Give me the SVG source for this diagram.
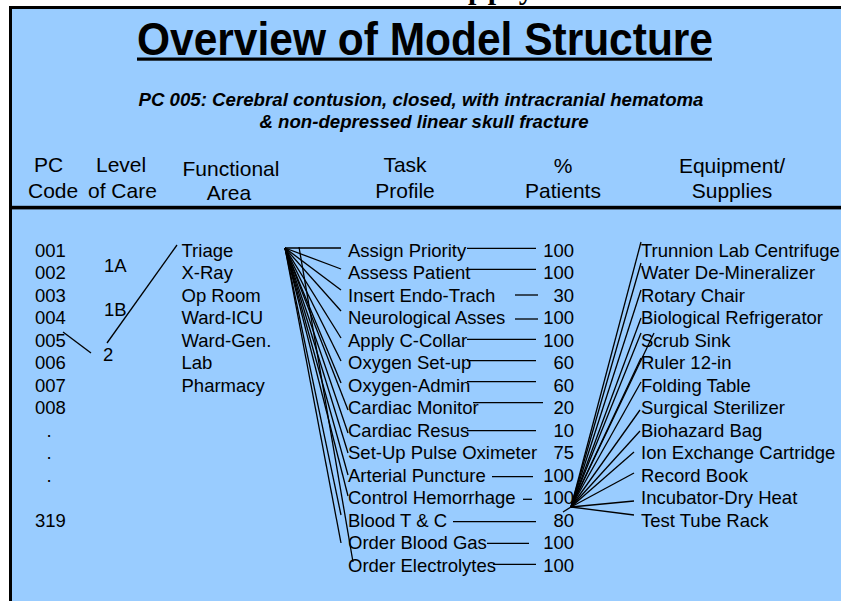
<svg xmlns="http://www.w3.org/2000/svg" width="841" height="601" viewBox="0 0 841 601">
<style>
  text { font-family: "Liberation Sans", Arial, sans-serif; fill: #000; }
  .hd { font-size: 21px; }
  .hdm { font-size: 21px; text-anchor: middle; }
  .b { font-size: 18.5px; }
  .num { font-size: 18.5px; text-anchor: end; }
  .ln { stroke: #000; stroke-width: 1.3; fill: none; }
</style>
<rect x="0" y="0" width="841" height="601" fill="#fff"/>
<text x="468" y="-1" style="font-family:'Liberation Serif',serif;font-weight:bold;font-size:30px" letter-spacing="3">pply</text>
<rect x="10.5" y="7.5" width="840" height="600" fill="#99CCFF" stroke="#000" stroke-width="3"/>

<g id="title">
  <text x="425" y="55" text-anchor="middle" font-weight="bold" font-size="46" textLength="576" lengthAdjust="spacingAndGlyphs">Overview of Model Structure</text>
  <rect x="137" y="57.5" width="575" height="3.2" fill="#000"/>
</g>
<g id="subtitle" font-weight="bold" font-style="italic">
  <text x="421" y="106" text-anchor="middle" font-size="17.5" textLength="565" lengthAdjust="spacingAndGlyphs">PC 005: Cerebral contusion, closed, with intracranial hematoma</text>
  <text x="424" y="128" text-anchor="middle" font-size="17.5" textLength="329" lengthAdjust="spacingAndGlyphs">&amp; non-depressed linear skull fracture</text>
</g>

<g id="headers">
  <text class="hd" x="34" y="172">PC</text>
  <text class="hd" x="28" y="198">Code</text>
  <text class="hd" x="96" y="172">Level</text>
  <text class="hd" x="88" y="198">of Care</text>
  <text class="hdm" x="231" y="176">Functional</text>
  <text class="hdm" x="229" y="200">Area</text>
  <text class="hdm" x="405" y="172">Task</text>
  <text class="hdm" x="405" y="198">Profile</text>
  <text class="hdm" x="563" y="173">%</text>
  <text class="hdm" x="563" y="198">Patients</text>
  <text class="hdm" x="732" y="173">Equipment/</text>
  <text class="hdm" x="732" y="198">Supplies</text>
  <rect x="10" y="205.8" width="831" height="3.6" fill="#000"/>
</g>

<g id="pc-codes" class="b">
  <text class="b" x="35" y="256.5">001</text>
  <text class="b" x="35" y="279">002</text>
  <text class="b" x="35" y="301.5">003</text>
  <text class="b" x="35" y="324">004</text>
  <text class="b" x="35" y="346.5">005</text>
  <text class="b" x="35" y="369">006</text>
  <text class="b" x="35" y="391.5">007</text>
  <text class="b" x="35" y="414">008</text>
  <text class="b" x="46.5" y="436.5">.</text>
  <text class="b" x="46.5" y="459">.</text>
  <text class="b" x="46.5" y="481.5">.</text>
  <text class="b" x="35" y="526.5">319</text>
</g>

<g id="level-of-care">
  <text class="b" x="104" y="272">1A</text>
  <text class="b" x="104" y="316">1B</text>
  <text class="b" x="103" y="361">2</text>
</g>

<g id="functional-area">
  <text class="b" x="181.5" y="256.5">Triage</text>
  <text class="b" x="181.5" y="279">X-Ray</text>
  <text class="b" x="181.5" y="301.5">Op Room</text>
  <text class="b" x="181.5" y="324">Ward-ICU</text>
  <text class="b" x="181.5" y="346.5">Ward-Gen.</text>
  <text class="b" x="181.5" y="369">Lab</text>
  <text class="b" x="181.5" y="391.5">Pharmacy</text>
</g>

<g id="task-profile">
  <text class="b" x="348" y="256.5">Assign Priority</text>
  <text class="b" x="348" y="279">Assess Patient</text>
  <text class="b" x="348" y="301.5">Insert Endo-Trach</text>
  <text class="b" x="348" y="324">Neurological Asses</text>
  <text class="b" x="348" y="346.5">Apply C-Collar</text>
  <text class="b" x="348" y="369">Oxygen Set-up</text>
  <text class="b" x="348" y="391.5">Oxygen-Admin</text>
  <text class="b" x="348" y="414">Cardiac Monitor</text>
  <text class="b" x="348" y="436.5">Cardiac Resus</text>
  <text class="b" x="348" y="459">Set-Up Pulse Oximeter</text>
  <text class="b" x="348" y="481.5">Arterial Puncture</text>
  <text class="b" x="348" y="504">Control Hemorrhage</text>
  <text class="b" x="348" y="526.5">Blood T &amp; C</text>
  <text class="b" x="348" y="549">Order Blood Gas</text>
  <text class="b" x="348" y="571.5">Order Electrolytes</text>
</g>

<g id="percent-patients">
  <text class="num" x="574" y="256.5">100</text>
  <text class="num" x="574" y="279">100</text>
  <text class="num" x="574" y="301.5">30</text>
  <text class="num" x="574" y="324">100</text>
  <text class="num" x="574" y="346.5">100</text>
  <text class="num" x="574" y="369">60</text>
  <text class="num" x="574" y="391.5">60</text>
  <text class="num" x="574" y="414">20</text>
  <text class="num" x="574" y="436.5">10</text>
  <text class="num" x="574" y="459">75</text>
  <text class="num" x="574" y="481.5">100</text>
  <text class="num" x="574" y="504">100</text>
  <text class="num" x="574" y="526.5">80</text>
  <text class="num" x="574" y="549">100</text>
  <text class="num" x="574" y="571.5">100</text>
</g>

<g id="equipment">
  <text class="b" x="641" y="256.5">Trunnion Lab Centrifuge</text>
  <text class="b" x="641" y="279">Water De-Mineralizer</text>
  <text class="b" x="641" y="301.5">Rotary Chair</text>
  <text class="b" x="641" y="324">Biological Refrigerator</text>
  <text class="b" x="641" y="346.5">Scrub Sink</text>
  <text class="b" x="641" y="369">Ruler 12-in</text>
  <text class="b" x="641" y="391.5">Folding Table</text>
  <text class="b" x="641" y="414">Surgical Sterilizer</text>
  <text class="b" x="641" y="436.5">Biohazard Bag</text>
  <text class="b" x="641" y="459">Ion Exchange Cartridge</text>
  <text class="b" x="641" y="481.5">Record Book</text>
  <text class="b" x="641" y="504">Incubator-Dry Heat</text>
  <text class="b" x="641" y="526.5">Test Tube Rack</text>
</g>

<g id="connectors" class="ln">
  <line x1="63" y1="332" x2="91" y2="353"/>
  <line x1="177" y1="245" x2="107" y2="343"/>

  <line x1="285" y1="248" x2="341" y2="248"/>
  <line x1="285" y1="248" x2="341" y2="269"/>
  <line x1="285" y1="248" x2="341" y2="290"/>
  <line x1="285" y1="248" x2="341" y2="311"/>
  <line x1="285" y1="248" x2="341" y2="338"/>
  <line x1="285" y1="248" x2="341" y2="361"/>
  <line x1="285" y1="248" x2="341" y2="383"/>
  <line x1="285" y1="248" x2="348" y2="410"/>
  <line x1="285" y1="248" x2="348" y2="433"/>
  <line x1="285" y1="248" x2="348" y2="453"/>
  <line x1="285" y1="248" x2="348" y2="475"/>
  <line x1="285" y1="248" x2="348" y2="496"/>
  <line x1="285" y1="248" x2="341" y2="515"/>
  <line x1="285" y1="248" x2="341" y2="543"/>
  <line x1="299" y1="247" x2="353" y2="562"/>

  <line x1="467" y1="248.3" x2="536" y2="248.3"/>
  <line x1="468" y1="269.3" x2="536" y2="269.3"/>
  <line x1="515" y1="295" x2="538" y2="295"/>
  <line x1="515" y1="319" x2="538" y2="319"/>
  <line x1="467" y1="339.3" x2="536" y2="339.3"/>
  <line x1="467" y1="360.7" x2="536" y2="360.7"/>
  <line x1="467" y1="381.7" x2="536" y2="381.7"/>
  <line x1="473" y1="402.7" x2="543" y2="402.7"/>
  <line x1="467" y1="430.7" x2="536" y2="430.7"/>
  <line x1="492" y1="476.7" x2="533" y2="476.7"/>
  <line x1="523" y1="499.3" x2="532" y2="499.3"/>
  <line x1="453" y1="521.7" x2="536" y2="521.7"/>
  <line x1="487" y1="543.3" x2="529" y2="543.3"/>
  <line x1="493" y1="564.3" x2="536" y2="564.3"/>

  <line x1="571" y1="507" x2="641" y2="242"/>
  <line x1="571" y1="507" x2="641" y2="263"/>
  <line x1="571" y1="507" x2="641" y2="290"/>
  <line x1="571" y1="507" x2="641" y2="318"/>
  <line x1="571" y1="507" x2="641" y2="333"/>
  <line x1="571" y1="507" x2="654" y2="333"/>
  <line x1="571" y1="507" x2="641" y2="358"/>
  <line x1="571" y1="507" x2="641" y2="382"/>
  <line x1="571" y1="507" x2="640" y2="410"/>
  <line x1="571" y1="507" x2="640" y2="431"/>
  <line x1="571" y1="507" x2="634" y2="452"/>
  <line x1="571" y1="507" x2="634" y2="473"/>
  <line x1="571" y1="507" x2="634" y2="501"/>
  <line x1="571" y1="507" x2="634" y2="515"/>
  <line x1="571" y1="507" x2="563" y2="512"/>
</g>
</svg>
